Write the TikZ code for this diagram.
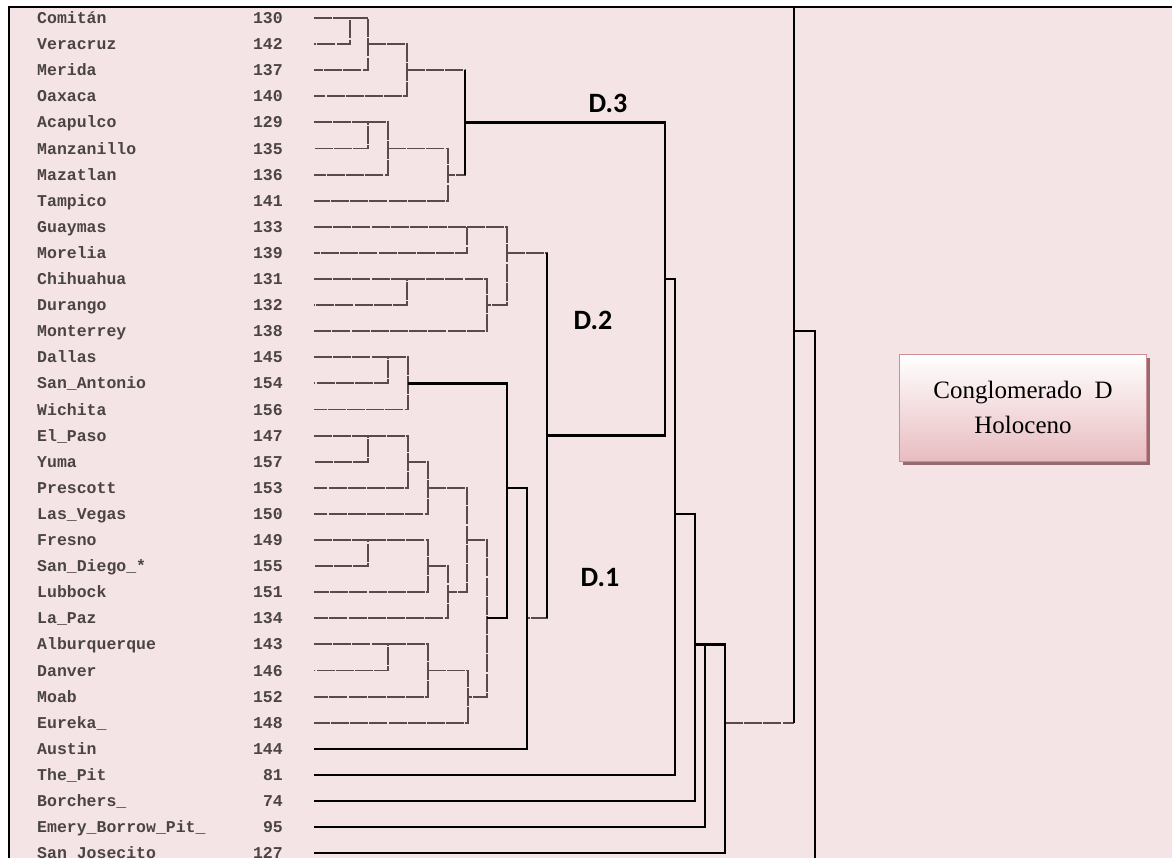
\documentclass[tikz,border=0pt]{standalone}
\usepackage{fontspec}
\usepackage{tikz}
\usetikzlibrary{shadows}
\newfontfamily\sitefont{Liberation Mono}
\newfontfamily\boxfont{Liberation Serif}
\newfontfamily\tagfont{Carlito}
\definecolor{bgpink}{HTML}{F5E4E5}
\definecolor{linegrey}{HTML}{5A4A4C}
\definecolor{textgrey}{HTML}{4A4444}
\definecolor{boxline}{HTML}{D08E94}
\definecolor{boxpink}{HTML}{E8BCC0}
\definecolor{shadowred}{HTML}{8A5E62}
\tikzset{
    site/.style={anchor=west, inner sep=0pt, text height=11pt, text depth=0pt, text=textgrey, font=\sitefont\bfseries\fontsize{16.5}{18}\selectfont},
    num/.style={anchor=east, inner sep=0pt, text height=11pt, text depth=0pt, text=textgrey, font=\sitefont\bfseries\fontsize{16.5}{18}\selectfont},
    link/.style={draw=linegrey, line width=1.9pt, dash pattern=on 18pt off 1.2pt},
    main/.style={draw=black, line width=2.3pt},
    tag/.style={inner sep=1pt, font=\tagfont\bfseries\fontsize{28}{30}\selectfont},
    holo/.style={rectangle, draw=boxline, line width=1.2pt, top color=white, bottom color=boxpink, minimum width=247pt, minimum height=107pt, align=center, font=\boxfont\fontsize{25}{35}\selectfont, drop shadow={shadow xshift=3pt, shadow yshift=-4pt, fill=shadowred, opacity=0.9}}
}

\begin{document}
\begin{tikzpicture}[x=1pt, y=-26.1pt, yshift=-18pt]
    \useasboundingbox (0,-0.6897) rectangle (1172,32.261);
    \fill[white] (0,-0.6897) rectangle (1172,32.261);
    \fill[bgpink] (9,-0.42) rectangle (1172,32.18);
    \draw[black, line width=1.8pt] (9,32.18) -- (9,-0.42) -- (1172,-0.42);

    \foreach \nm/\val [count=\i from 0] in {Comitán/130, Veracruz/142, Merida/137, Oaxaca/140, Acapulco/129, Manzanillo/135, Mazatlan/136, Tampico/141, Guaymas/133, Morelia/139, Chihuahua/131, Durango/132, Monterrey/138, Dallas/145, San\_Antonio/154, Wichita/156, El\_Paso/147, Yuma/157, Prescott/153, Las\_Vegas/150, Fresno/149, San\_Diego\_*/155, Lubbock/151, La\_Paz/134, Alburquerque/143, Danver/146, Moab/152, Eureka\_/148, Austin/144, The\_Pit/81, Borchers\_/74, Emery\_Borrow\_Pit\_/95, San Josecito/127} {
        \node[site] (n\i) at (37,\i) {\nm};
        \node[num] (v\i) at (283,\i) {\val};
        \coordinate (s\i) at (314,\i);
    }

    \coordinate (m1) at (350,0);
    \coordinate (m2) at (368,1);
    \coordinate (m3) at (407,2);
    \coordinate (m4) at (368,4);
    \coordinate (m5) at (388,5);
    \coordinate (m6) at (448,6);
    \coordinate (m7) at (465,4);
    \coordinate (m8) at (467,8);
    \coordinate (m9) at (407,10);
    \coordinate (m10) at (487,11);
    \coordinate (m11) at (507,9);
    \coordinate (m12) at (388,13);
    \coordinate (m13) at (408,14);
    \coordinate (m14) at (368,16);
    \coordinate (m15) at (408,17);
    \coordinate (m16) at (428,18);
    \coordinate (m17) at (368,20);
    \coordinate (m18) at (428,21);
    \coordinate (m19) at (448,22);
    \coordinate (m20) at (467,20);
    \coordinate (m21) at (388,24);
    \coordinate (m22) at (428,25);
    \coordinate (m23) at (468,26);
    \coordinate (m24) at (487,23);
    \coordinate (m25) at (507,18);
    \coordinate (m26) at (527,23);
    \coordinate (m27) at (547,16);
    \coordinate (m28) at (665,10);
    \coordinate (m29) at (675,19);
    \coordinate (m30) at (695,24);
    \coordinate (m31) at (705,24);
    \coordinate (m32) at (725,27);
    \coordinate (root) at (794,12);
    \coordinate (roottop) at (794,-0.42);
    \coordinate (rootbot) at (815,32.18);

    \draw[link] (s0) -| (m1) |- (s1);
    \draw[link] (m1) -| (m2) |- (s2);
    \draw[link] (m2) -| (m3) |- (s3);
    \draw[link] (s4) -| (m4) |- (s5);
    \draw[link] (m4) -| (m5) |- (s6);
    \draw[link] (m5) -| (m6) |- (s7);
    \draw[link] (m3) -| (m7) |- (m6);
    \draw[link] (s8) -| (m8) |- (s9);
    \draw[link] (s10) -| (m9) |- (s11);
    \draw[link] (m9) -| (m10) |- (s12);
    \draw[link] (m8) -| (m11) |- (m10);
    \draw[link] (s13) -| (m12) |- (s14);
    \draw[link] (m12) -| (m13) |- (s15);
    \draw[link] (s16) -| (m14) |- (s17);
    \draw[link] (m14) -| (m15) |- (s18);
    \draw[link] (m15) -| (m16) |- (s19);
    \draw[link] (s20) -| (m17) |- (s21);
    \draw[link] (m17) -| (m18) |- (s22);
    \draw[link] (m18) -| (m19) |- (s23);
    \draw[link] (m16) -| (m20) |- (m19);
    \draw[link] (s24) -| (m21) |- (s25);
    \draw[link] (m21) -| (m22) |- (s26);
    \draw[link] (m22) -| (m23) |- (s27);
    \draw[link] (m20) -| (m24) |- (m23);
    \draw[link] (m11) -| (m27) |- (m26);
    \draw[link] (m32) -- (m32 -| root);

    \draw[main] (m7 |- m3) -- (m7 |- m6);
    \draw[main] (m27 |- m11) -- (m27 |- m26);
    \draw[main] (m13) -| (m25) |- (m24);
    \draw[main] (m25) -| (m26) |- (s28);
    \draw[main] (m7) -| (m28) |- (m27);
    \draw[main] (m28) -| (m29) |- (s29);
    \draw[main] (m29) -| (m30) |- (s30);
    \draw[main] (m30) -| (m31) |- (s31);
    \draw[main] (m31) -| (m32) |- (s32);
    \draw[main] (roottop) -- (root |- m32);
    \draw[main] (root) -| (rootbot);

    \node[tag] (d3) at (608,3.26) {D.3};
    \node[tag] (d2) at (593,11.57) {D.2};
    \node[tag] (d1) at (600,21.42) {D.1};
    \node[holo] (conglo) at (1023,14.94) {Conglomerado\ \ D\\Holoceno};
\end{tikzpicture}
\end{document}
